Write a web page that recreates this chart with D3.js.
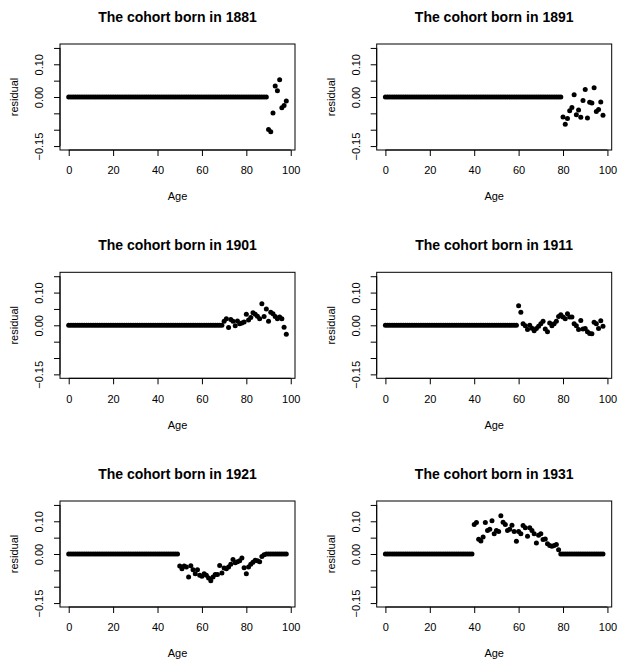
<!DOCTYPE html>
<html>
<head>
<meta charset="utf-8">
<script src="https://cdn.jsdelivr.net/npm/d3@7"></script>
<style>
  body { margin: 0; background: #fff; }
  text { font-family: "Liberation Sans", Arial, Helvetica, sans-serif; fill: #000; }
</style>
</head>
<body>
<div id="chart"></div>
<script>
const width = 622;
const height = 662;

const ages = [
   0,  1,  2,  3,  4,  5,  6,  7,  8,  9,
  10, 11, 12, 13, 14, 15, 16, 17, 18, 19,
  20, 21, 22, 23, 24, 25, 26, 27, 28, 29,
  30, 31, 32, 33, 34, 35, 36, 37, 38, 39,
  40, 41, 42, 43, 44, 45, 46, 47, 48, 49,
  50, 51, 52, 53, 54, 55, 56, 57, 58, 59,
  60, 61, 62, 63, 64, 65, 66, 67, 68, 69,
  70, 71, 72, 73, 74, 75, 76, 77, 78, 79,
  80, 81, 82, 83, 84, 85, 86, 87, 88, 89,
  90, 91, 92, 93, 94, 95, 96, 97, 98
];

const cohorts = ["1881", "1891", "1901", "1911", "1921", "1931"];

// residuals by age 0..98
const resid1881 = [
  0, 0, 0, 0, 0, 0, 0, 0, 0, 0,
  0, 0, 0, 0, 0, 0, 0, 0, 0, 0,
  0, 0, 0, 0, 0, 0, 0, 0, 0, 0,
  0, 0, 0, 0, 0, 0, 0, 0, 0, 0,
  0, 0, 0, 0, 0, 0, 0, 0, 0, 0,
  0, 0, 0, 0, 0, 0, 0, 0, 0, 0,
  0, 0, 0, 0, 0, 0, 0, 0, 0, 0,
  0, 0, 0, 0, 0, 0, 0, 0, 0, 0,
  0, 0, 0, 0, 0, 0, 0, 0, 0, 0,
  -0.099, -0.106, -0.049, 0.034, 0.019, 0.053, -0.033, -0.026, -0.012
];
const resid1891 = [
  0, 0, 0, 0, 0, 0, 0, 0, 0, 0,
  0, 0, 0, 0, 0, 0, 0, 0, 0, 0,
  0, 0, 0, 0, 0, 0, 0, 0, 0, 0,
  0, 0, 0, 0, 0, 0, 0, 0, 0, 0,
  0, 0, 0, 0, 0, 0, 0, 0, 0, 0,
  0, 0, 0, 0, 0, 0, 0, 0, 0, 0,
  0, 0, 0, 0, 0, 0, 0, 0, 0, 0,
  0, 0, 0, 0, 0, 0, 0, 0, 0, 0,
  -0.061, -0.083, -0.066, -0.042, -0.032, 0.007, -0.054, -0.040, -0.062, -0.011,
  0.023, -0.064, -0.016, -0.018, 0.028, -0.044, -0.038, -0.015, -0.056
];
const resid1901 = [
  0, 0, 0, 0, 0, 0, 0, 0, 0, 0,
  0, 0, 0, 0, 0, 0, 0, 0, 0, 0,
  0, 0, 0, 0, 0, 0, 0, 0, 0, 0,
  0, 0, 0, 0, 0, 0, 0, 0, 0, 0,
  0, 0, 0, 0, 0, 0, 0, 0, 0, 0,
  0, 0, 0, 0, 0, 0, 0, 0, 0, 0,
  0, 0, 0, 0, 0, 0, 0, 0, 0, 0,
  0.012, 0.020, -0.007, 0.018, 0.012, -0.001, 0.013, 0.005, 0.007, 0.010,
  0.034, 0.016, 0.024, 0.038, 0.034, 0.028, 0.020, 0.066, 0.027, 0.050,
  0.012, 0.040, 0.035, 0.027, 0.020, 0.025, 0.020, -0.006, -0.027
];
const resid1911 = [
  0, 0, 0, 0, 0, 0, 0, 0, 0, 0,
  0, 0, 0, 0, 0, 0, 0, 0, 0, 0,
  0, 0, 0, 0, 0, 0, 0, 0, 0, 0,
  0, 0, 0, 0, 0, 0, 0, 0, 0, 0,
  0, 0, 0, 0, 0, 0, 0, 0, 0, 0,
  0, 0, 0, 0, 0, 0, 0, 0, 0, 0,
  0.060, 0.040, 0.005, -0.001, -0.013, 0.000, -0.009, -0.017, -0.010, -0.003,
  0.005, 0.012, -0.011, -0.020, 0.007, -0.001, 0.005, 0.012, 0.027, 0.032,
  0.025, 0.020, 0.035, 0.025, 0.025, 0.005, -0.001, -0.013, 0.015, -0.011,
  -0.010, -0.020, -0.025, -0.026, 0.009, 0.005, -0.010, 0.014, -0.003
];
const resid1921 = [
  0, 0, 0, 0, 0, 0, 0, 0, 0, 0,
  0, 0, 0, 0, 0, 0, 0, 0, 0, 0,
  0, 0, 0, 0, 0, 0, 0, 0, 0, 0,
  0, 0, 0, 0, 0, 0, 0, 0, 0, 0,
  0, 0, 0, 0, 0, 0, 0, 0, 0, 0,
  -0.037, -0.045, -0.037, -0.040, -0.070, -0.036, -0.048, -0.060, -0.048, -0.065,
  -0.068, -0.060, -0.065, -0.073, -0.082, -0.070, -0.063, -0.063, -0.035, -0.058,
  -0.043, -0.045, -0.040, -0.031, -0.017, -0.027, -0.024, -0.021, -0.012, -0.042,
  -0.060, -0.040, -0.031, -0.025, -0.019, -0.021, -0.024, -0.008, -0.002, 0,
  0, 0, 0, 0, 0, 0, 0, 0, 0
];
const resid1931 = [
  0, 0, 0, 0, 0, 0, 0, 0, 0, 0,
  0, 0, 0, 0, 0, 0, 0, 0, 0, 0,
  0, 0, 0, 0, 0, 0, 0, 0, 0, 0,
  0, 0, 0, 0, 0, 0, 0, 0, 0, 0,
  0.090, 0.096, 0.045, 0.040, 0.052, 0.096, 0.072, 0.076, 0.102, 0.062,
  0.072, 0.069, 0.117, 0.097, 0.090, 0.072, 0.076, 0.088, 0.069, 0.039,
  0.069, 0.062, 0.087, 0.080, 0.054, 0.080, 0.072, 0.062, 0.034, 0.057,
  0.062, 0.044, 0.046, 0.031, 0.026, 0.024, 0.026, 0.029, 0.013, 0,
  0, 0, 0, 0, 0, 0, 0, 0, 0, 0,
  0, 0, 0, 0, 0, 0, 0, 0, 0
];

const residuals = [resid1881, resid1891, resid1901, resid1911, resid1921, resid1931];

const xTicks = [0, 20, 40, 60, 80, 100];
const yTicks = [-0.15, -0.10, -0.05, 0, 0.05, 0.10, 0.15];
const yLabelValues = [-0.15, 0, 0.10];
const yLabelText = ["\u22120.15", "0.00", "0.10"];

// panel geometry (plot box of each panel)
const colLeft = [60, 376.7];
const rowTop = [44, 272.3, 501];
const boxW = 235;
const boxH = 106;

const svg = d3.select("#chart")
  .append("svg")
  .attr("width", width)
  .attr("height", height);

svg.append("rect").attr("width", width).attr("height", height).attr("fill", "#fff");

const x = d3.scaleLinear().domain([-3.92, 101.92]).range([0, boxW]);
const y = d3.scaleLinear().domain([-0.162, 0.162]).range([boxH, 0]);

cohorts.forEach((cohort, i) => {
  const left = colLeft[i % 2];
  const top = rowTop[Math.floor(i / 2)];
  const g = svg.append("g").attr("transform", `translate(${left},${top})`);

  // title
  g.append("text")
    .attr("x", boxW / 2)
    .attr("y", -22)
    .attr("text-anchor", "middle")
    .style("font-size", "14px")
    .style("font-weight", "bold")
    .text(`The cohort born in ${cohort}`);

  // points
  g.selectAll("circle")
    .data(ages.map((a, j) => ({ age: a, r: residuals[i][j] })))
    .join("circle")
    .attr("cx", d => x(d.age))
    .attr("cy", d => y(d.r))
    .attr("r", 2.5)
    .attr("fill", "#000");

  // x axis
  const xa = g.append("g")
    .attr("transform", `translate(0,${boxH})`)
    .call(d3.axisBottom(x).tickValues(xTicks).tickSize(6).tickPadding(10.5).tickFormat(d3.format("d")));
  xa.select(".domain").remove();
  xa.append("line")
    .attr("x1", x(xTicks[0])).attr("x2", x(xTicks[xTicks.length - 1]))
    .attr("stroke", "#000");
  xa.selectAll("text").style("font-size", "11px").attr("fill", "#000");
  xa.selectAll("line").attr("stroke", "#000");

  // y axis
  const ya = g.append("g")
    .call(d3.axisLeft(y).tickValues(yTicks).tickSize(6).tickFormat(d => {
      const k = yLabelValues.findIndex(v => Math.abs(v - d) < 1e-9);
      return k >= 0 ? yLabelText[k] : "";
    }));
  ya.select(".domain").remove();
  ya.append("line")
    .attr("y1", y(yTicks[0])).attr("y2", y(yTicks[yTicks.length - 1]))
    .attr("stroke", "#000");
  ya.selectAll("line").attr("stroke", "#000");
  ya.selectAll("text")
    .attr("x", null).attr("dy", null)
    .attr("transform", "translate(-20.7,0) rotate(-90)")
    .attr("dy", "0.35em")
    .attr("text-anchor", "middle")
    .attr("fill", "#000")
    .style("font-size", "11px");

  // box
  g.append("rect")
    .attr("width", boxW)
    .attr("height", boxH)
    .attr("fill", "none")
    .attr("stroke", "#000");

  // axis titles
  g.append("text")
    .attr("x", boxW / 2)
    .attr("y", 152.5)
    .attr("dy", "0.35em")
    .attr("text-anchor", "middle")
    .style("font-size", "11px")
    .text("Age");

  g.append("text")
    .attr("transform", `translate(-46,${boxH / 2}) rotate(-90)`)
    .attr("dy", "0.35em")
    .attr("text-anchor", "middle")
    .style("font-size", "11px")
    .text("residual");
});
</script>
</body>
</html>
